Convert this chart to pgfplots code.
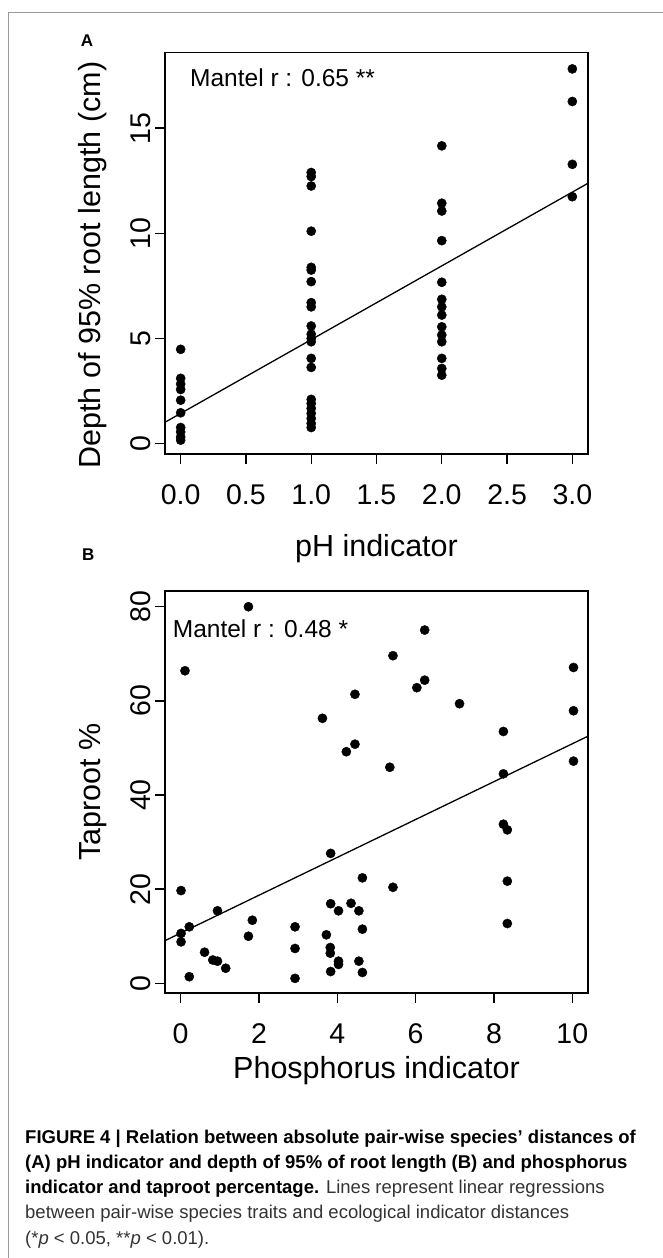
\documentclass[border=0pt]{standalone}
\usepackage{fontspec}
\setmainfont{Liberation Sans}
\usepackage{pgfplots}
\pgfplotsset{compat=1.18}

\newcommand{\fs}[1]{\fontsize{#1}{#1}\selectfont}

\pgfplotsset{
  rplot/.style={
    scale only axis,
    width=423pt, height=401.5pt,
    axis line style={line width=1.6pt},
    tick style={line width=1.4pt, black},
    tick align=outside,
    major tick length=10pt,
    tick pos=left,
    /pgf/number format/assume math mode=true,
    tick label style={font=\fs{28.5}},
    xticklabel style={anchor=base, inner sep=0pt, yshift=-40.4pt},
    yticklabel style={rotate=90, anchor=south, inner sep=0pt},
    yticklabel shift=4pt,
    clip=false,
  },
  dots/.style={only marks, mark=*, mark size=4.6pt, mark options={fill=black, draw=black}},
  fit/.style={black, line width=1.3pt, no marks},
}

\begin{document}
\begin{tikzpicture}
\useasboundingbox (0pt,0pt) rectangle (662pt,-1258pt);
\draw[black!40, line width=1.3pt] (8.3pt,-1260pt) -- (8.3pt,-12.7pt) -- (665pt,-12.7pt);

% panel A
\begin{axis}[rplot,
    at={(165pt,-454pt)}, anchor=south west,
    xmin=-0.12, xmax=3.12, ymin=-0.5, ymax=18.6,
    xtick={0,0.5,1,1.5,2,2.5,3},
    xticklabels={0.0,0.5,1.0,1.5,2.0,2.5,3.0},
    ytick={0,5,10,15},
]
\addplot[dots] coordinates {
  (0,4.48) (0,3.10) (0,2.83) (0,2.57) (0,2.06) (0,1.46) (0,0.76) (0,0.55) (0,0.31) (0,0.16)
  (1,12.89) (1,12.70) (1,12.25) (1,10.10) (1,8.38) (1,8.25) (1,7.70) (1,6.70) (1,6.50)
  (1,5.59) (1,5.20) (1,5.00) (1,4.84) (1,4.05) (1,3.62) (1,2.10) (1,1.90) (1,1.67)
  (1,1.43) (1,1.19) (1,0.95) (1,0.76)
  (2,14.16) (2,11.43) (2,11.06) (2,9.65) (2,7.67) (2,6.86) (2,6.50) (2,6.11) (2,5.55)
  (2,5.16) (2,4.84) (2,4.05) (2,3.57) (2,3.25)
  (3,17.82) (3,16.27) (3,13.28) (3,11.74)
};
\addplot[fit] coordinates {(-0.12,1.01) (3.12,12.38)};
\end{axis}

% panel B
\begin{axis}[rplot,
    at={(165pt,-992.7pt)}, anchor=south west,
    xmin=-0.4, xmax=10.4, ymin=-2, ymax=83.3,
    xtick={0,2,4,6,8,10},
    ytick={0,20,40,60,80},
]
\addplot[dots] coordinates {
  (1.73,80.0) (0.11,66.4) (4.45,61.4) (3.62,56.3) (4.45,50.8) (4.23,49.2) (3.83,27.6)
  (4.64,22.4) (0.01,19.7) (3.83,16.9) (4.35,17.0) (4.03,15.4) (4.55,15.4) (0.94,15.4)
  (1.83,13.4) (0.22,12.0) (2.92,12.0) (4.64,11.5) (0.01,10.6) (0.01,8.8) (1.73,10.0)
  (3.72,10.3) (2.92,7.4) (3.82,7.6) (3.82,6.4) (0.61,6.6) (0.82,4.95) (0.94,4.7)
  (1.15,3.2) (4.03,4.7) (4.03,4.0) (4.55,4.7) (0.22,1.4) (2.92,1.05) (3.83,2.5) (4.64,2.3)
  (6.23,75.05) (5.42,69.6) (6.23,64.4) (6.03,62.8) (7.12,59.4) (10.03,67.1) (10.03,57.9)
  (8.24,53.5) (5.34,45.9) (8.24,44.5) (10.03,47.2) (8.24,33.8) (8.34,32.6) (8.34,21.7)
  (8.34,12.7) (5.42,20.4)
};
\addplot[fit] coordinates {(-0.4,9.06) (10.4,52.5)};
\end{axis}

% labels
\node[anchor=base, font=\bfseries\fs{17}] at (87pt,-46.7pt) {A};
\node[anchor=base, font=\bfseries\fs{17}] at (88.3pt,-560pt) {B};
\node[anchor=base west, font=\fs{24.5}, inner sep=0pt] at (190pt,-86pt) {Mantel r : 0.65 **};
\node[anchor=base west, font=\fs{24.5}, inner sep=0pt] at (172.7pt,-637.7pt) {Mantel r : 0.48 *};
\node[anchor=base, rotate=90, font=\fs{30.5}, inner sep=0pt] at (100.6pt,-265pt) {Depth of 95\% root length (cm)};
\node[anchor=base, rotate=90, font=\fs{30.5}, inner sep=0pt] at (100.6pt,-791.8pt) {Taproot \%};
\node[anchor=base, font=\fs{30.5}, inner sep=0pt] at (376.5pt,-556.7pt) {pH indicator};
\node[anchor=base, font=\fs{30.5}, inner sep=0pt] at (376.5pt,-1078.3pt) {Phosphorus indicator};

% caption
\begin{scope}[every node/.style={anchor=base west, inner sep=0pt, font=\fs{18.5}}]
\node at (25pt,-1143pt) {\textbf{FIGURE 4 | Relation between absolute pair-wise species’ distances of}};
\node at (25pt,-1168pt) {\textbf{(A) pH indicator and depth of 95\% of root length (B) and phosphorus}};
\node at (25pt,-1193pt) {\textbf{indicator and taproot percentage.} \textcolor{black!80}{Lines represent linear regressions}};
\node[text=black!80] at (25pt,-1218.5pt) {between pair-wise species traits and ecological indicator distances};
\node[text=black!80] at (25pt,-1244pt) {(*\textit{p} < 0.05, **\textit{p} < 0.01).};
\end{scope}
\end{tikzpicture}
\end{document}
